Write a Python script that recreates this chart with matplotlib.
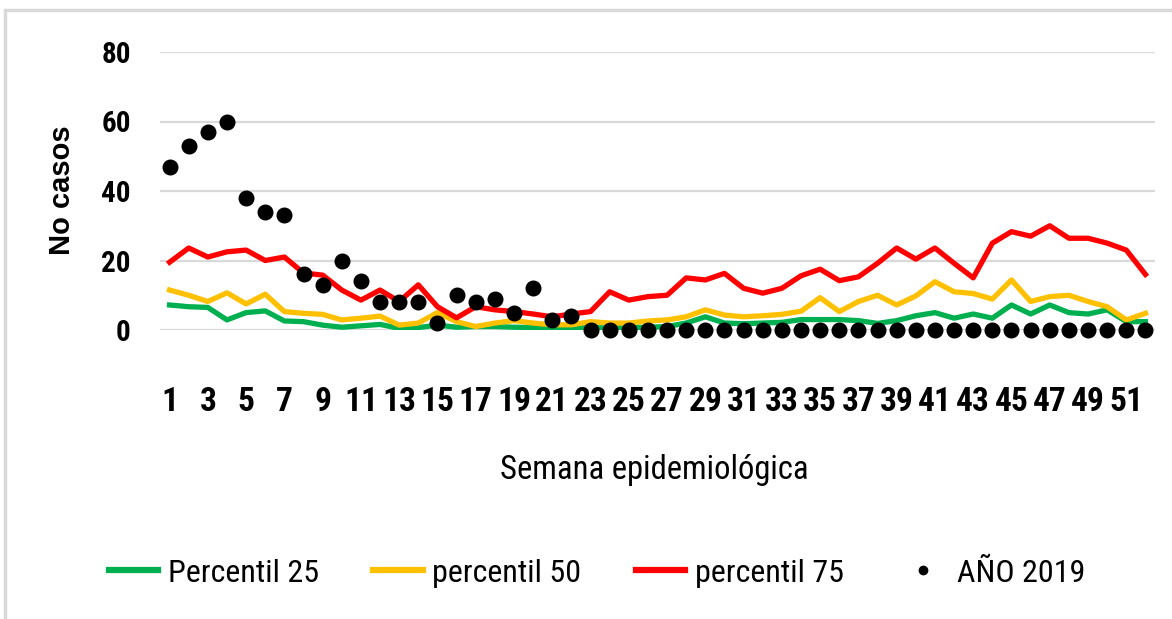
import matplotlib.pyplot as plt
from matplotlib import font_manager
from matplotlib.lines import Line2D
from matplotlib.patches import Rectangle

available = {f.name for f in font_manager.fontManager.ttflist}
narrow_pick = None
for name in ["Liberation Sans Narrow", "Roboto Condensed", "Open Sans Condensed",
             "DejaVu Sans Condensed"]:
    if name in available:
        narrow_pick = name
        break

if narrow_pick:
    NARROW = [narrow_pick, "DejaVu Sans"]
    SCALE = 1.0
else:
    NARROW = ["Liberation Sans", "DejaVu Sans"]
    SCALE = 0.8
WIDE = ["Liberation Sans", "DejaVu Sans"]

GREEN = "#00B050"
YELLOW = "#FFC000"
RED = "#FF0000"
GRID_GREY = "#D9D9D9"
LINE_WIDTH = 3.8

weeks = list(range(1, 53))

percentil_25 = [7.2, 6.7, 6.5, 2.9, 5.0, 5.5, 2.6, 2.4, 1.4, 0.8, 1.2, 1.6, 0.5,
                0.7, 1.4, 0.8, 1.0, 1.0, 0.8, 0.7, 0.6, 0.6, 0.7, 0.6, 0.7, 0.8,
                1.0, 2.0, 3.8, 2.0, 1.8, 2.0, 2.2, 3.0, 3.0, 3.0, 2.7, 1.9, 2.7,
                4.1, 5.0, 3.4, 4.6, 3.4, 7.2, 4.6, 7.2, 5.0, 4.6, 5.8, 2.4, 2.4]

percentil_50 = [11.5, 10.0, 8.2, 10.7, 7.5, 10.3, 5.3, 4.8, 4.5, 2.9, 3.4, 4.0,
                1.4, 2.0, 5.0, 2.4, 1.0, 2.0, 2.7, 2.0, 1.5, 1.5, 2.4, 2.0, 2.0,
                2.6, 2.9, 3.8, 5.8, 4.3, 3.8, 4.1, 4.5, 5.4, 9.3, 5.3, 8.2, 10.0,
                7.2, 9.8, 13.9, 11.0, 10.5, 8.9, 14.4, 8.2, 9.6, 10.0, 8.2, 6.7,
                2.9, 4.8]

percentil_75 = [19.5, 23.6, 21.0, 22.5, 23.0, 20.0, 21.0, 16.4, 15.8, 11.5, 8.6,
                11.5, 8.2, 13.0, 6.7, 3.5, 6.7, 5.8, 5.3, 4.6, 3.8, 4.6, 5.3,
                11.0, 8.6, 9.6, 10.0, 15.0, 14.4, 16.3, 12.0, 10.6, 12.0, 15.6,
                17.5, 14.2, 15.3, 19.2, 23.6, 20.4, 23.6, 19.2, 15.0, 25.0, 28.3,
                27.0, 30.0, 26.4, 26.4, 25.0, 23.0, 16.0]

anio_2019 = [47, 53, 57, 60, 38, 34, 33, 16, 13, 20, 14, 8, 8, 8, 2, 10, 8, 9,
             5, 12, 3, 4, 0, 0, 0, 0, 0, 0, 0, 0, 0, 0, 0, 0, 0, 0, 0, 0, 0, 0,
             0, 0, 0, 0, 0, 0, 0, 0, 0, 0, 0, 0]

x_ticks = list(range(1, 52, 2))
y_ticks = [0, 20, 40, 60, 80]

fig = plt.figure(figsize=(11.72, 6.19), dpi=100)

# slide frame, behind the chart
fig.patches.append(Rectangle((5 / 1172, -0.1), 1.2, 1 - 10 / 619 + 0.1,
                             transform=fig.transFigure, facecolor="white",
                             edgecolor=GRID_GREY, linewidth=2.5, zorder=-5))

ax = fig.add_axes([160 / 1172, 1 - 330 / 619, 995 / 1172, 278 / 619])
ax.set_facecolor("none")

ax.plot(weeks, percentil_25, color=GREEN, linewidth=LINE_WIDTH,
        solid_joinstyle="round", label="Percentil 25")
ax.plot(weeks, percentil_50, color=YELLOW, linewidth=LINE_WIDTH,
        solid_joinstyle="round", label="percentil 50")
ax.plot(weeks, percentil_75, color=RED, linewidth=LINE_WIDTH,
        solid_joinstyle="round", label="percentil 75")
ax.plot(weeks, anio_2019, linestyle="none", marker="o", markersize=10.5,
        color="black", clip_on=False, zorder=5, label="AÑO 2019")

ax.set_xlim(0.5, 52.5)
ax.set_ylim(0, 80)
ax.set_xticks(x_ticks)
ax.set_yticks(y_ticks)
ax.grid(axis="y", color=GRID_GREY, linewidth=1.6)
ax.set_axisbelow(True)
for side in ax.spines.values():
    side.set_visible(False)

ax.tick_params(axis="both", length=0)
ax.tick_params(axis="x", pad=40)
ax.tick_params(axis="y", pad=21)
for lab in ax.get_xticklabels():
    lab.set_fontfamily(NARROW)
    lab.set_fontsize(24 * SCALE)
    lab.set_fontweight("bold")
for lab in ax.get_yticklabels():
    lab.set_fontfamily(NARROW)
    lab.set_fontsize(21 * SCALE)
    lab.set_fontweight("bold")

ax.set_ylabel("No casos", family=WIDE, fontsize=21, fontweight="bold")
ax.yaxis.set_label_coords(-0.0985, 0.504)
ax.set_xlabel("Semana epidemiológica", family=NARROW, fontsize=23.5 * SCALE)
ax.xaxis.set_label_coords(0.497, -0.504)
ax.xaxis.label.set_va("center")
ax.yaxis.label.set_va("center")

handles = [
    Line2D([0], [0], color=GREEN, linewidth=4.5),
    Line2D([0], [0], color=YELLOW, linewidth=4.5),
    Line2D([0], [0], color=RED, linewidth=4.5),
    Line2D([0], [0], color="black", marker="o", linestyle="none", markersize=6),
]
labels = ["Percentil 25", "percentil 50", "percentil 75", "AÑO 2019"]
fig.legend(handles, labels, loc="center", bbox_to_anchor=(597 / 1172, 1 - 573 / 619),
           ncol=4, frameon=False, handlelength=1.55 / SCALE, handletextpad=0.3,
           columnspacing=1.7, prop={"family": NARROW, "size": 23 * SCALE})

fig.savefig("out.png", dpi=100)
